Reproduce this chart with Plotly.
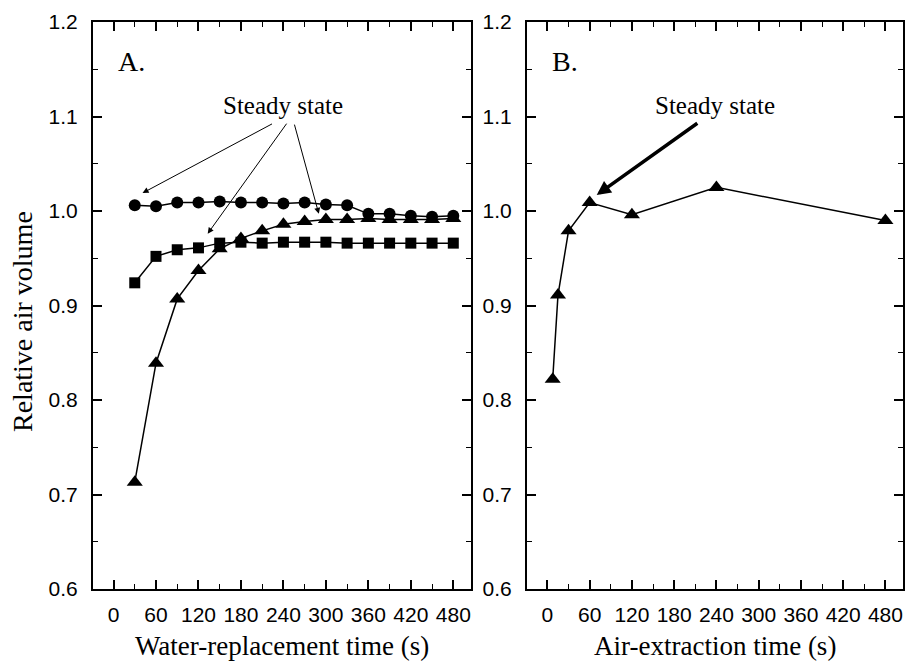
import plotly.graph_objects as go

# ---- Data ----
time_a = [30, 60, 90, 120, 150, 180, 210, 240, 270, 300, 330, 360, 390, 420, 450, 480]
circles_a = [1.006, 1.005, 1.009, 1.009, 1.010, 1.009, 1.009, 1.008, 1.009, 1.007, 1.006,
             0.997, 0.997, 0.995, 0.994, 0.995]
squares_a = [0.924, 0.952, 0.959, 0.961, 0.966, 0.967, 0.966, 0.967, 0.967, 0.967, 0.966,
             0.966, 0.966, 0.966, 0.966, 0.966]
triangles_a = [0.713, 0.839, 0.907, 0.937, 0.960, 0.971, 0.979, 0.986, 0.989, 0.991, 0.991,
               0.992, 0.991, 0.991, 0.991, 0.992]

time_b = [7.5, 15, 30, 60, 120, 240, 480]
triangles_b = [0.822, 0.911, 0.979, 1.009, 0.996, 1.025, 0.990]

x_ticks = [0, 60, 120, 180, 240, 300, 360, 420, 480]
y_ticks = [0.6, 0.7, 0.8, 0.9, 1.0, 1.1, 1.2]

SERIF = "Liberation Serif, Times New Roman, serif"
SANS = "Liberation Sans, Arial, sans-serif"

fig = go.Figure()

line = dict(color="black", width=1.5)
fig.add_trace(go.Scatter(x=time_a, y=circles_a, mode="lines+markers", line=line,
                         marker=dict(symbol="circle", size=12, color="black"),
                         xaxis="x", yaxis="y", showlegend=False))
fig.add_trace(go.Scatter(x=time_a, y=squares_a, mode="lines+markers", line=line,
                         marker=dict(symbol="square", size=11, color="black"),
                         xaxis="x", yaxis="y", showlegend=False))
fig.add_trace(go.Scatter(x=time_a, y=triangles_a, mode="lines+markers", line=line,
                         marker=dict(symbol="triangle-up", size=14, color="black"),
                         xaxis="x", yaxis="y", showlegend=False))
fig.add_trace(go.Scatter(x=time_b, y=triangles_b, mode="lines+markers", line=line,
                         marker=dict(symbol="triangle-up", size=14, color="black"),
                         xaxis="x2", yaxis="y2", showlegend=False))

W, H = 905, 669
xa_dom = [93 / W, 471 / W]
xb_dom = [527 / W, 903 / W]
y_dom = [1 - 589 / H, 1 - 22 / H]

def xaxis(dom, anchor):
    return dict(domain=dom, anchor=anchor, range=[-29, 505], tickvals=x_ticks,
                ticks="inside", ticklen=9, tickwidth=1.5, tickcolor="black",
                minor=dict(ticks="inside", ticklen=5, tickwidth=1.2, dtick=30, tick0=0,
                           tickcolor="black"),
                showline=True, linecolor="black", linewidth=2, mirror="ticks",
                showgrid=False, zeroline=False, automargin=False,
                tickfont=dict(family=SANS, size=21, color="black"),
                ticklabelstandoff=6)

def yaxis(anchor):
    return dict(domain=y_dom, anchor=anchor, range=[0.6, 1.2], tickvals=y_ticks,
                tickformat=".1f",
                ticks="inside", ticklen=9, tickwidth=1.5, tickcolor="black",
                minor=dict(ticks="inside", ticklen=5, tickwidth=1.2, dtick=0.05, tick0=0.6,
                           tickcolor="black"),
                showline=True, linecolor="black", linewidth=2, mirror="ticks",
                showgrid=False, zeroline=False, automargin=False,
                tickfont=dict(family=SANS, size=21, color="black"),
                ticklabelstandoff=9)

fig.update_layout(
    width=W, height=H,
    margin=dict(l=0, r=0, t=0, b=0, pad=0, autoexpand=False),
    paper_bgcolor="white", plot_bgcolor="white",
    xaxis=xaxis(xa_dom, "y"),
    yaxis=yaxis("x"),
    xaxis2=xaxis(xb_dom, "y2"),
    yaxis2=yaxis("x2"),
)

ann = []
# Axis titles
ann.append(dict(text="Water-replacement time (s)", xref="paper", yref="paper",
                x=(xa_dom[0] + xa_dom[1]) / 2, y=1 - 646 / H, showarrow=False,
                font=dict(family=SERIF, size=27, color="black"), xanchor="center", yanchor="middle"))
ann.append(dict(text="Air-extraction time (s)", xref="paper", yref="paper",
                x=(xb_dom[0] + xb_dom[1]) / 2, y=1 - 646 / H, showarrow=False,
                font=dict(family=SERIF, size=27, color="black"), xanchor="center", yanchor="middle"))
ann.append(dict(text="Relative air volume", xref="paper", yref="paper",
                x=22 / W, y=1 - 322 / H, showarrow=False, textangle=-90,
                font=dict(family=SERIF, size=28, color="black"), xanchor="center", yanchor="middle"))
# Panel labels
ann.append(dict(text="A.", xref="x", yref="y", x=4, y=1.158, showarrow=False,
                font=dict(family=SERIF, size=28, color="black"), xanchor="left", yanchor="middle"))
ann.append(dict(text="B.", xref="x2", yref="y2", x=4, y=1.158, showarrow=False,
                font=dict(family=SERIF, size=28, color="black"), xanchor="left", yanchor="middle"))
# Steady state labels
ann.append(dict(text="Steady state", xref="x", yref="y", x=239, y=1.112, showarrow=False,
                font=dict(family=SERIF, size=25, color="black"), xanchor="center", yanchor="middle"))
ann.append(dict(text="Steady state", xref="x2", yref="y2", x=238, y=1.112, showarrow=False,
                font=dict(family=SERIF, size=25, color="black"), xanchor="center", yanchor="middle"))
# Arrows panel A
for (tx, ty, hx, hy) in [(226, 1.093, 41, 1.019), (246, 1.094, 133, 0.976), (255, 1.093, 290, 0.997)]:
    ann.append(dict(text="", xref="x", yref="y", axref="x", ayref="y", x=hx, y=hy, ax=tx, ay=ty,
                    showarrow=True, arrowhead=2, arrowsize=1.2, arrowwidth=1, arrowcolor="black"))
# Arrow panel B
ann.append(dict(text="", xref="x2", yref="y2", axref="x2", ayref="y2", x=70, y=1.017, ax=215, ay=1.094,
                showarrow=True, arrowhead=2, arrowsize=0.8, arrowwidth=3.5, arrowcolor="black"))

fig.update_layout(annotations=ann)

fig.write_html("out.html")
